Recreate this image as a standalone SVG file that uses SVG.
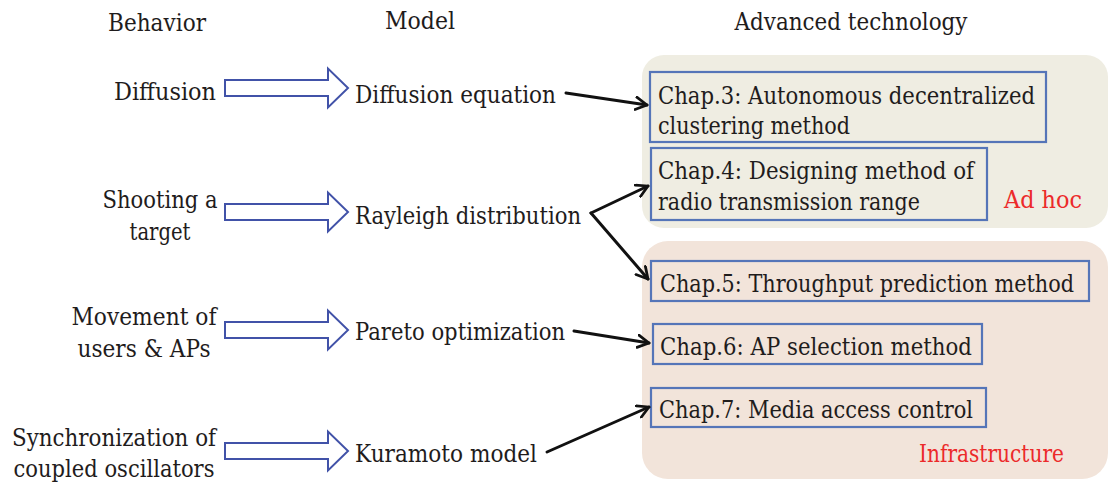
<svg xmlns="http://www.w3.org/2000/svg" width="1110" height="484" viewBox="0 0 1110 484" font-family="DejaVu Serif, Liberation Serif, serif">
<style>
text{font-size:23.5px;fill:#1f1c1c}
.red{fill:#ec2a2a}
.mid{text-anchor:middle}
.hollow{fill:#ffffff;stroke:#4152a8;stroke-width:2}
.chap{fill:none;stroke:#5575b8;stroke-width:2.2}
.conn{fill:none;stroke:#111;stroke-width:3;stroke-linecap:round}
</style>
<defs>
<marker id="ah" viewBox="0 0 12 12" refX="10" refY="6" markerWidth="5" markerHeight="5" markerUnits="strokeWidth" orient="auto">
<path d="M1,1 L10,6 L1,11" fill="none" stroke="#111" stroke-width="2.2" stroke-linecap="round" stroke-linejoin="round"/>
</marker>
<symbol id="harrow" overflow="visible">
<path d="M0,-8 H103 V-19.5 L123,0 L103,19.5 V8 H0 Z"/>
</symbol>
</defs>
<g id="regions">
<rect id="adhoc-region" x="642" y="55" width="466" height="173" rx="22" fill="#efede2"/>
<rect id="infra-region" x="642" y="241" width="466" height="238" rx="26" fill="#f2e4da"/>
</g>
<g id="headers">
<text class="mid" x="157" y="31" textLength="98" lengthAdjust="spacingAndGlyphs">Behavior</text>
<text class="mid" x="420" y="29" textLength="70" lengthAdjust="spacingAndGlyphs">Model</text>
<text class="mid" x="851" y="30" textLength="233" lengthAdjust="spacingAndGlyphs">Advanced technology</text>
</g>
<g id="behaviors">
<g id="b-diffusion"><text class="mid" x="165" y="100" textLength="102" lengthAdjust="spacingAndGlyphs">Diffusion</text></g>
<g id="b-shooting"><text class="mid" x="160" y="208" textLength="115" lengthAdjust="spacingAndGlyphs">Shooting a</text><text class="mid" x="160" y="240" textLength="61" lengthAdjust="spacingAndGlyphs">target</text></g>
<g id="b-movement"><text class="mid" x="144" y="325" textLength="145" lengthAdjust="spacingAndGlyphs">Movement of</text><text class="mid" x="144" y="357" textLength="133" lengthAdjust="spacingAndGlyphs">users &amp; APs</text></g>
<g id="b-sync"><text class="mid" x="114" y="446" textLength="204" lengthAdjust="spacingAndGlyphs">Synchronization of</text><text class="mid" x="114" y="477" textLength="201" lengthAdjust="spacingAndGlyphs">coupled oscillators</text></g>
</g>
<g id="hollow-arrows">
<use href="#harrow" class="hollow" x="225" y="88"/>
<use href="#harrow" class="hollow" x="225" y="212"/>
<use href="#harrow" class="hollow" x="225" y="330"/>
<use href="#harrow" class="hollow" x="225" y="451"/>
</g>
<g id="models">
<g id="m-diffusion"><text x="355" y="103" textLength="201" lengthAdjust="spacingAndGlyphs">Diffusion equation</text></g>
<g id="m-rayleigh"><text x="355" y="224" textLength="226" lengthAdjust="spacingAndGlyphs">Rayleigh distribution</text></g>
<g id="m-pareto"><text x="355" y="340" textLength="210" lengthAdjust="spacingAndGlyphs">Pareto optimization</text></g>
<g id="m-kuramoto"><text x="355" y="462" textLength="182" lengthAdjust="spacingAndGlyphs">Kuramoto model</text></g>
</g>
<g id="chapters">
<g id="chap3"><rect class="chap" x="650" y="72" width="396" height="70"/><text x="658" y="104" textLength="377" lengthAdjust="spacingAndGlyphs">Chap.3: Autonomous decentralized</text><text x="658" y="134" textLength="192" lengthAdjust="spacingAndGlyphs">clustering method</text></g>
<g id="chap4"><rect class="chap" x="651" y="148" width="336" height="72"/><text x="658" y="179" textLength="316" lengthAdjust="spacingAndGlyphs">Chap.4: Designing method of</text><text x="658" y="210" textLength="262" lengthAdjust="spacingAndGlyphs">radio transmission range</text></g>
<g id="chap5"><rect class="chap" x="651" y="261" width="438" height="40"/><text x="660" y="292" textLength="414" lengthAdjust="spacingAndGlyphs">Chap.5: Throughput prediction method</text></g>
<g id="chap6"><rect class="chap" x="653" y="324" width="329" height="40"/><text x="660" y="355" textLength="312" lengthAdjust="spacingAndGlyphs">Chap.6: AP selection method</text></g>
<g id="chap7"><rect class="chap" x="651" y="388" width="335" height="39"/><text x="659" y="418" textLength="314" lengthAdjust="spacingAndGlyphs">Chap.7: Media access control</text></g>
<text id="label-adhoc" class="red" x="1004" y="208" textLength="78" lengthAdjust="spacingAndGlyphs">Ad hoc</text>
<text id="label-infra" class="red" x="919" y="462" textLength="145" lengthAdjust="spacingAndGlyphs">Infrastructure</text>
</g>
<g id="connectors">
<path class="conn" d="M566,93 L647,105" marker-end="url(#ah)"/>
<path class="conn" d="M591,213 L648,186" marker-end="url(#ah)"/>
<path class="conn" d="M591,213 L648,279" marker-end="url(#ah)"/>
<path class="conn" d="M574,331 L649,343" marker-end="url(#ah)"/>
<path class="conn" d="M547,452 L649,407" marker-end="url(#ah)"/>
</g>
</svg>
